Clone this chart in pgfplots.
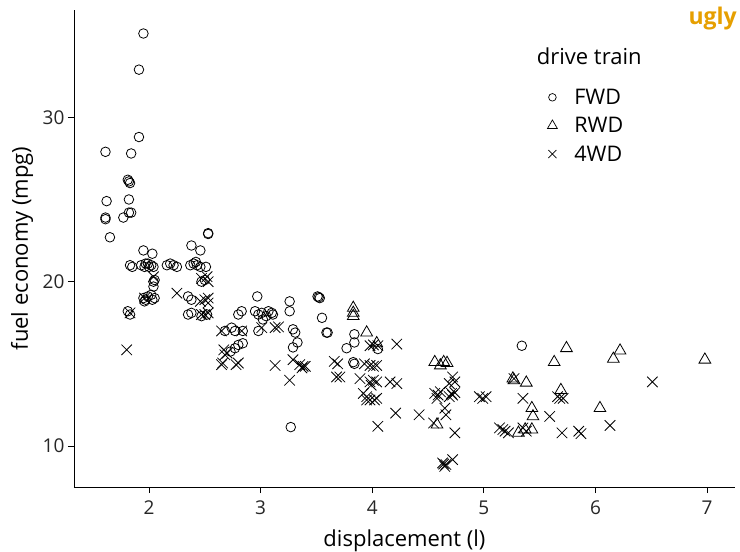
\documentclass[border=0pt]{standalone}
\usepackage{pgfplots}
\pgfplotsset{compat=1.18}
\usepackage{fontspec}
\setmainfont{Open Sans}
\definecolor{uglyorange}{HTML}{E69F00}
\begin{document}
\begin{tikzpicture}
\useasboundingbox (-74pt,-65pt) rectangle (666pt,487pt);
\begin{axis}[
  at={(0pt,0pt)}, anchor=south west,
  scale only axis, width=661pt, height=477pt,
  xmin=1.328, xmax=7.25, ymin=7.505, ymax=36.53,
  axis lines=left, axis line style={-, line width=0.9pt},
  tick align=outside, major tick length=6pt,
  tick style={line width=0.9pt, black},
  xtick={2,3,4,5,6,7}, ytick={10,20,30},
  /pgf/number format/assume math mode=true,
  tick label style={font=\fontsize{19}{22}\selectfont, text=black!85},
  xticklabel style={yshift=-4pt},
  label style={font=\fontsize{22}{26}\selectfont},
  xlabel={displacement (l)}, ylabel={fuel economy (mpg)},
  xlabel style={at={(axis description cs:0.5,-0.1237)}, anchor=base},
  ylabel style={at={(axis description cs:-0.0696,0.5)}, anchor=base},
  clip=false,
  legend style={at={(axis description cs:0.716,0.8392)}, anchor=north west, draw=none, fill=none,
    font=\fontsize{21.5}{25}\selectfont, row sep=7.5pt, inner sep=0pt},
  legend cell align=left,
]
\addlegendimage{only marks, mark=o, mark size=3.8pt, line width=0.7pt, black}
\addlegendentry{\hspace{15pt}FWD}
\addlegendimage{only marks, mark=triangle, mark size=5.7pt, line width=0.7pt, black}
\addlegendentry{\hspace{15pt}RWD}
\addlegendimage{only marks, mark=x, mark size=5.7pt, line width=0.7pt, black}
\addlegendentry{\hspace{15pt}4WD}
% FWD
\addplot[only marks, mark=o, mark size=4.8pt, line width=0.8pt, black, forget plot] coordinates {
(1.95,35.1) (1.91,32.9) (1.91,28.8) (1.61,27.9) (1.84,27.8) (1.81,26.2) (1.83,26.0) (1.82,26.1)
(1.62,24.9) (1.82,25.0) (1.61,23.8) (1.61,23.9) (1.77,23.9) (1.82,24.2) (1.84,24.2) (1.65,22.7)
(2.53,22.95) (2.53,22.9)
(1.95,21.9) (2.03,21.7) (2.38,22.2) (2.46,21.9)
(1.83,21.0) (1.85,20.9) (1.93,21.0) (1.96,20.9) (1.99,21.1) (2.02,21.0) (2.04,20.9) (1.97,21.1) (2.00,20.9)
(2.16,21.0) (2.19,21.1) (2.22,21.0) (2.25,20.9)
(2.37,21.0) (2.40,21.1) (2.43,21.0) (2.46,20.9) (2.51,20.9) (2.42,21.2)
(2.04,20.0) (2.05,20.1) (2.04,19.7) (2.47,20.0) (2.50,20.1)
(1.95,19.0) (1.97,18.9) (1.99,19.1) (2.02,19.2) (2.05,19.0) (1.96,18.8) (2.03,18.9)
(2.35,19.1) (2.38,18.9)
(1.83,18.0) (1.81,18.2)
(2.35,18.0) (2.38,18.1) (2.47,17.9) (2.52,18.0)
(2.97,19.1) (3.26,18.8) (3.26,18.2)
(2.80,18.0) (2.83,18.2) (2.95,18.2) (2.98,18.0) (3.01,18.1) (3.05,17.9) (3.07,18.2) (3.10,18.1) (3.11,18.0) (3.02,17.7)
(2.68,17.0) (2.74,17.2) (2.77,17.0) (2.84,17.0) (2.98,17.0)
(3.29,17.1) (3.31,16.9) (3.29,16.0) (3.33,16.3)
(2.73,15.75) (2.77,15.95) (2.80,16.15) (2.84,16.25)
(3.52,19.05) (3.53,19.0) (3.51,19.1) (3.55,17.8) (3.59,16.9) (3.60,16.9)
(3.84,16.8) (3.84,16.3) (3.77,15.95) (4.05,15.9) (3.83,15.1) (3.84,15.0)
(3.27,11.15) (5.34,16.1)
};
% RWD
\addplot[only marks, mark=triangle, mark size=6.8pt, line width=0.8pt, black, forget plot] coordinates {
(3.83,18.4) (3.83,18.1) (3.83,17.9) (3.95,16.9) (4.04,16.25)
(4.56,15.1) (4.64,15.1) (4.61,14.9) (4.67,15.05)
(4.58,11.3)
(5.26,14.1) (5.27,14.0) (5.38,13.85)
(5.43,12.3) (5.44,11.8)
(5.31,10.8) (5.37,11.0) (5.43,11.0)
(5.63,15.1) (5.74,15.95) (6.22,15.8) (6.16,15.3) (6.98,15.25)
(5.69,13.4) (6.04,12.3)
};
% 4WD
\addplot[only marks, mark=x, mark size=7.4pt, line width=0.8pt, black, forget plot] coordinates {
(1.80,15.85) (1.83,18.1) (1.96,19.0) (2.04,20.3) (2.25,19.3)
(2.47,20.2) (2.52,20.3) (2.53,20.0)
(2.46,18.8) (2.50,18.9) (2.53,19.0) (2.53,18.7)
(2.50,18.0) (2.53,18.1) (2.47,18.0)
(2.65,17.0) (2.83,17.0) (3.01,17.2) (3.13,17.2) (3.16,17.25)
(2.67,15.85) (2.70,15.65) (2.68,15.55)
(2.65,14.95) (2.66,15.05) (2.78,14.95) (2.80,15.05)
(3.13,14.9) (3.29,15.25) (3.26,14.0)
(3.35,14.95) (3.38,14.85) (3.37,14.75) (3.40,14.85)
(3.66,15.15) (3.69,15.0) (3.68,14.2) (3.71,14.2)
(3.98,16.1) (4.01,16.15) (4.05,16.1) (4.22,16.2)
(3.93,15.0) (3.98,14.9) (4.01,14.85) (4.04,14.9)
(3.89,14.1) (3.98,13.9) (4.01,14.0) (4.04,13.9) (3.99,13.7) (4.16,13.9) (4.22,13.8)
(3.92,13.2) (3.95,13.0) (3.98,12.8) (4.02,12.8) (3.95,12.8) (4.04,12.9)
(4.21,12.0) (4.42,11.9) (4.05,11.2)
(4.72,14.2) (4.74,13.9) (4.69,13.8)
(4.56,13.2) (4.59,13.1) (4.61,13.3) (4.58,12.9) (4.71,13.2) (4.72,13.1) (4.69,13.0) (4.74,13.25)
(4.65,12.3) (4.66,11.9) (4.55,11.4) (4.74,10.8)
(4.63,8.97) (4.66,8.87) (4.65,8.76) (4.72,9.17) (4.64,8.9)
(4.96,13.0) (4.99,12.9) (5.02,13.0)
(5.27,14.1) (5.35,12.9) (5.59,11.8)
(5.14,11.1) (5.19,10.9) (5.22,10.8) (5.17,11.0) (5.35,11.1) (5.38,10.9)
(5.66,13.0) (5.68,12.9) (5.71,12.9)
(5.70,10.8) (5.85,10.9) (5.87,10.75) (6.13,11.25) (6.51,13.9)
};
\node[anchor=base west, font=\fontsize{22}{26}\selectfont, inner sep=0pt] at (axis description cs:0.700,0.8847) {drive train};
\node[anchor=base east, font=\bfseries\fontsize{23}{27}\selectfont, text=uglyorange, inner sep=0pt] at (axis description cs:1.003,0.9706) {ugly};
\end{axis}
\end{tikzpicture}
\end{document}
